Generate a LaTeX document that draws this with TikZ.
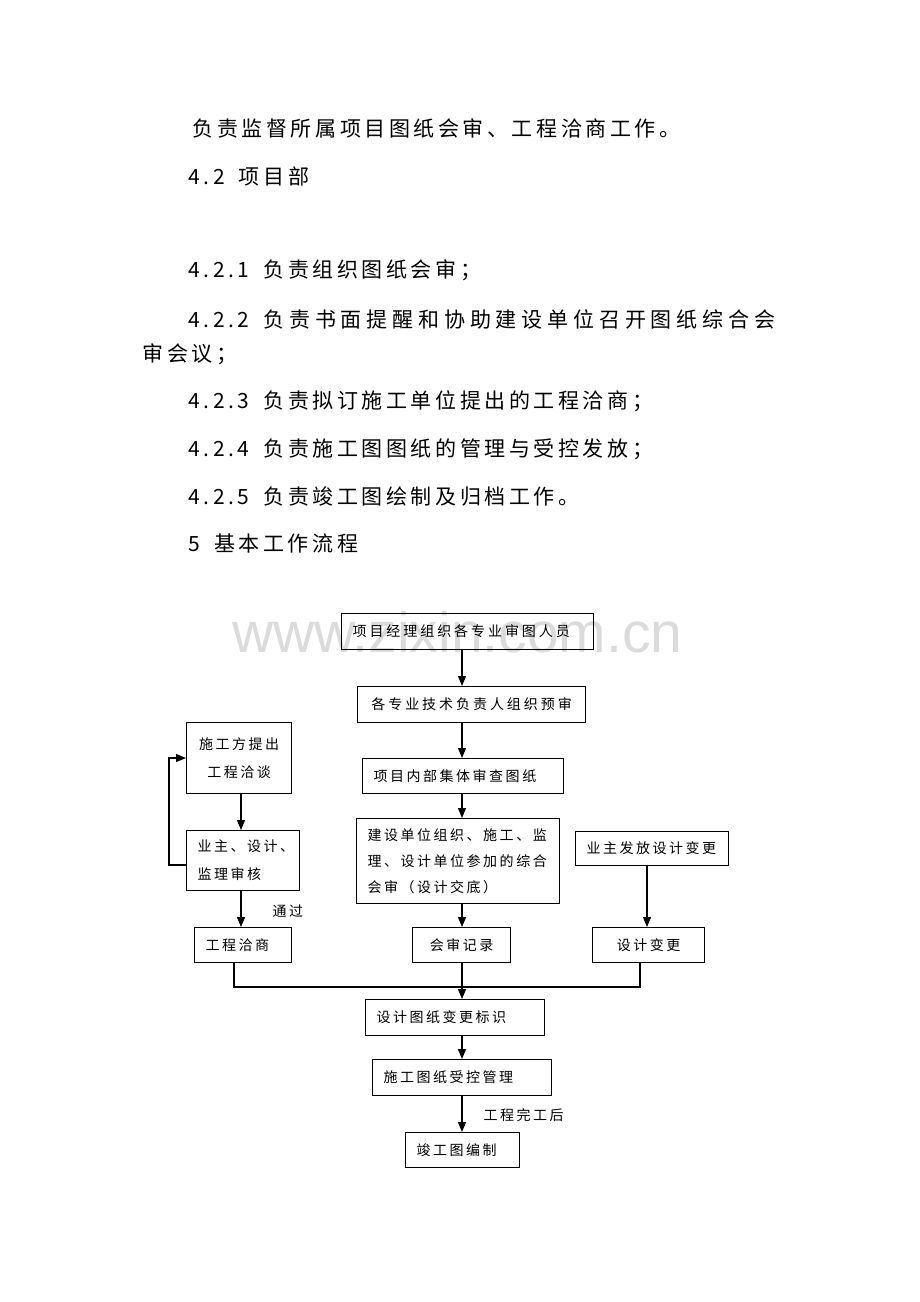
\documentclass[tikz,border=0pt]{standalone}
\usepackage{fontspec}
\setmainfont{Noto Sans CJK SC}
\newfontfamily\bodyfont[LetterSpace=17]{Noto Sans CJK SC}
\newfontfamily\boxfont[LetterSpace=18]{Noto Sans CJK SC}
\newfontfamily\wideboxfont[LetterSpace=21]{Noto Sans CJK SC}
\newfontfamily\markfont{Liberation Sans}
\usetikzlibrary{arrows.meta,positioning,calc}
\tikzset{
bodyline/.style={
  anchor=west, inner sep=0pt,
  font=\bodyfont\fontsize{21}{26}\selectfont
  },
flowbox/.style={
  draw=black, line width=1.2pt, anchor=north west,
  inner xsep=11pt, inner ysep=0pt, align=left,
  font=\boxfont\fontsize{14}{27}\selectfont
  },
note/.style={
  anchor=west, inner sep=0pt,
  font=\boxfont\fontsize{14}{17}\selectfont
  },
watermark/.style={
  anchor=base west, inner sep=0pt, text=black!14,
  font=\markfont\fontsize{57}{60}\selectfont
  }
}

\begin{document}
\begin{tikzpicture}[x=1pt,y=-1pt,>={Triangle[width=8pt,length=10pt]},
  line width=1.2pt]
\useasboundingbox (0,0) rectangle (920,1302);

% watermark
\node[watermark] (wm) at (232,652) {www.zixin.com.cn};

% text above the chart
\node[bodyline] (t1) at (192,128) {负责监督所属项目图纸会审、工程洽商工作。};
\node[bodyline] (t2) at (188,176) {4.2\hspace{14pt}项目部};
\node[bodyline] (t3) at (188,270) {4.2.1\hspace{14pt}负责组织图纸会审；};
\node[bodyline] (t4) at (188,319)
  {4.2.2\hspace{14pt}\addfontfeature{LetterSpace=23}负责书面提醒和协助建设单位召开图纸综合会};
\node[bodyline] (t5) at (142,354) {审会议；};
\node[bodyline] (t6) at (188,401) {4.2.3\hspace{14pt}负责拟订施工单位提出的工程洽商；};
\node[bodyline] (t7) at (188,449) {4.2.4\hspace{14pt}负责施工图图纸的管理与受控发放；};
\node[bodyline] (t8) at (188,496) {4.2.5\hspace{14pt}负责竣工图绘制及归档工作。};
\node[bodyline] (t9) at (188,544) {5\hspace{14pt}基本工作流程};

% main column
\node[flowbox, font=\wideboxfont\fontsize{14}{27}\selectfont,
  text width=230pt, minimum height=36pt] (pm) at (341,613)
  {项目经理组织各专业审图人员};
\node[flowbox, font=\wideboxfont\fontsize{14}{27}\selectfont, align=center,
  text width=206pt, minimum height=36pt] (pre) at (357,686)
  {各专业技术负责人组织预审};
\node[flowbox, text width=179pt, minimum height=35pt] (inner) at (362,758)
  {项目内部集体审查图纸};
\node[flowbox, font=\boxfont\fontsize{14}{26}\selectfont,
  text width=181pt, minimum height=85pt] (joint) at (356,818)
  {建设单位组织、施工、监\\理、设计单位参加的综合\\会审（设计交底）};
\node[flowbox, align=center, text width=76pt, minimum height=35pt] (record) at (412,927)
  {会审记录};
\node[flowbox, text width=157pt, minimum height=36pt] (mark) at (365,999)
  {设计图纸变更标识};
\node[flowbox, text width=157pt, minimum height=36pt] (ctrl) at (372,1059)
  {施工图纸受控管理};
\node[flowbox, text width=92pt, minimum height=35pt] (asbuilt) at (405,1132)
  {竣工图编制};

% left branch
\node[flowbox, align=center, font=\boxfont\fontsize{14}{28}\selectfont,
  text width=83pt, minimum height=71pt] (propose) at (186,722)
  {施工方提出\\工程洽谈};
\node[flowbox, font=\boxfont\fontsize{14}{28}\selectfont,
  text width=91pt, minimum height=60pt] (review) at (186,830)
  {业主、设计、\\监理审核};
\node[flowbox, text width=75pt, minimum height=35pt] (neg) at (194,927)
  {工程洽商};

% right branch
\node[flowbox, text width=131pt, minimum height=34pt] (owner) at (575,831)
  {业主发放设计变更};
\node[flowbox, align=center, text width=90pt, minimum height=35pt] (change) at (592,927)
  {设计变更};

% labels
\node[note] (pass) at (272,911) {通过};
\node[note] (done) at (483,1115) {工程完工后};

% connectors
\coordinate (cx) at (462,0);
\coordinate (lx) at (241,0);
\coordinate (rx) at (647,0);
\coordinate (negx) at (234,0);
\coordinate (chgx) at (640,0);
\coordinate (merge) at (462,987);
\coordinate (loopb) at (169,865);
\coordinate (loopt) at (169,758);

\draw[->] (pm.south -| cx) -- (pre.north -| cx);
\draw[->] (pre.south -| cx) -- (inner.north -| cx);
\draw[->] (inner.south -| cx) -- (joint.north -| cx);
\draw[->] (joint.south -| cx) -- (record.north -| cx);
\draw[->] (record.south -| cx) -- (mark.north -| cx);
\draw[->] (mark.south -| cx) -- (ctrl.north -| cx);
\draw[->] (ctrl.south -| cx) -- (asbuilt.north -| cx);

\draw[->] (propose.south -| lx) -- (review.north -| lx);
\draw[->] (review.south -| lx) -- (neg.north -| lx);
\draw[->] (review.west |- loopb) -- (loopb) -- (loopt) -- (propose.west |- loopt);

\draw[->] (owner.south -| rx) -- (change.north -| rx);

\draw (neg.south -| negx) |- (merge) -| (change.south -| chgx);

\end{tikzpicture}
\end{document}
